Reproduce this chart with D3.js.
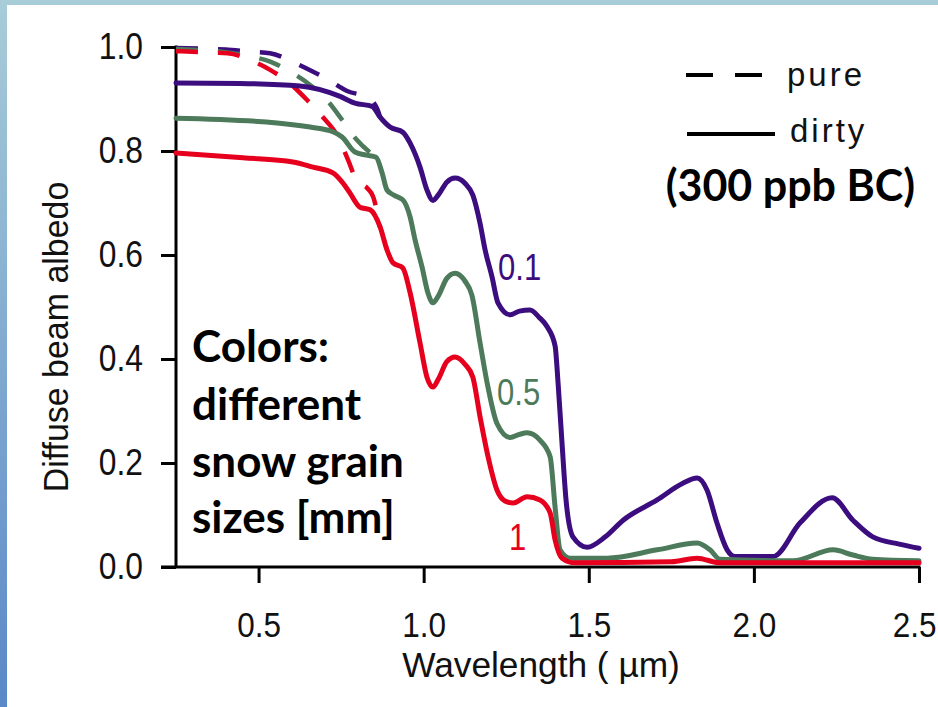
<!DOCTYPE html>
<html>
<head>
<meta charset="utf-8">
<script src="https://cdn.jsdelivr.net/npm/d3@7/dist/d3.min.js"></script>
<style>
  html, body { margin: 0; padding: 0; background: #ffffff; }
  svg { display: block; }
  .axis-text { font-family: "Liberation Sans", Arial, sans-serif; fill: #111; }
  .note { font-family: Lato, "Open Sans", sans-serif; font-weight: 700; fill: #000; }
</style>
</head>
<body>
<svg id="chart" width="938" height="707"></svg>
<script>
// Diffuse beam albedo of snow vs wavelength, three grain sizes,
// pure snow (dashed) and snow with 300 ppb black carbon (solid).

const xTicks = [0.5, 1.0, 1.5, 2.0, 2.5];
const yTicks = [0.0, 0.2, 0.4, 0.6, 0.8, 1.0];
const grainLabels = ["0.1", "0.5", "1"];

// dirty snow, grain radius 0.1 mm  [wavelength µm, albedo]
const dirty01 = [
  [0.25, 0.931], [0.444, 0.930], [0.625, 0.925], [0.747, 0.905], [0.792, 0.892],
  [0.844, 0.886], [0.868, 0.865], [0.898, 0.846], [0.937, 0.836], [0.959, 0.815],
  [0.989, 0.769], [1.010, 0.725], [1.028, 0.705], [1.045, 0.716], [1.070, 0.740],
  [1.095, 0.748], [1.125, 0.738], [1.149, 0.715], [1.171, 0.660], [1.186, 0.610],
  [1.207, 0.558], [1.225, 0.508], [1.262, 0.485], [1.290, 0.492], [1.322, 0.494],
  [1.350, 0.480], [1.374, 0.462], [1.398, 0.425], [1.407, 0.354], [1.419, 0.238],
  [1.431, 0.130], [1.452, 0.058], [1.495, 0.038], [1.550, 0.058], [1.604, 0.090],
  [1.707, 0.129], [1.785, 0.161], [1.828, 0.171], [1.858, 0.148], [1.888, 0.085],
  [1.919, 0.033], [1.943, 0.020], [2.058, 0.020], [2.140, 0.085], [2.237, 0.133],
  [2.300, 0.090], [2.360, 0.058], [2.440, 0.044], [2.500, 0.036]
];

// dirty snow, grain radius 0.5 mm
const dirty05 = [
  [0.25, 0.863], [0.556, 0.854], [0.656, 0.846], [0.725, 0.837], [0.753, 0.827],
  [0.792, 0.798], [0.826, 0.792], [0.856, 0.788], [0.874, 0.758], [0.889, 0.725],
  [0.910, 0.715], [0.937, 0.706], [0.959, 0.673], [0.974, 0.629], [0.995, 0.577],
  [1.013, 0.527], [1.028, 0.508], [1.045, 0.522], [1.070, 0.555], [1.095, 0.565],
  [1.125, 0.550], [1.146, 0.523], [1.171, 0.430], [1.195, 0.345], [1.222, 0.276],
  [1.262, 0.249], [1.290, 0.255], [1.313, 0.258], [1.352, 0.244], [1.383, 0.212],
  [1.398, 0.115], [1.413, 0.033], [1.443, 0.017], [1.555, 0.017], [1.707, 0.033],
  [1.828, 0.046], [1.867, 0.033], [1.897, 0.015], [2.119, 0.012], [2.240, 0.033],
  [2.300, 0.023], [2.360, 0.015], [2.500, 0.012]
];

// dirty snow, grain radius 1 mm
const dirty1 = [
  [0.25, 0.796], [0.453, 0.787], [0.604, 0.779], [0.665, 0.769], [0.725, 0.758],
  [0.756, 0.738], [0.777, 0.719], [0.807, 0.692], [0.838, 0.687], [0.868, 0.654],
  [0.889, 0.610], [0.907, 0.585], [0.937, 0.575], [0.959, 0.527], [0.989, 0.431],
  [1.010, 0.365], [1.028, 0.346], [1.045, 0.362], [1.070, 0.395], [1.095, 0.404],
  [1.125, 0.390], [1.149, 0.365], [1.171, 0.288], [1.195, 0.212], [1.222, 0.148],
  [1.246, 0.127], [1.271, 0.123], [1.313, 0.135], [1.352, 0.129], [1.383, 0.104],
  [1.398, 0.052], [1.419, 0.017], [1.458, 0.008], [1.750, 0.010], [1.828, 0.017],
  [1.897, 0.008], [2.500, 0.008]
];

// pure snow, until the curves join the dirty ones
const pure01 = [
  [0.25, 0.998], [0.400, 0.995], [0.474, 0.991], [0.535, 0.988], [0.605, 0.971],
  [0.641, 0.960], [0.711, 0.937], [0.770, 0.915], [0.830, 0.903], [0.860, 0.880],
  [0.868, 0.865]
];
const pure05 = [
  [0.25, 0.996], [0.400, 0.990], [0.474, 0.982], [0.535, 0.972], [0.589, 0.955],
  [0.656, 0.927], [0.707, 0.898], [0.753, 0.860], [0.798, 0.821], [0.856, 0.788]
];
const pure1 = [
  [0.25, 0.992], [0.329, 0.990], [0.407, 0.988], [0.474, 0.975], [0.535, 0.956],
  [0.589, 0.933], [0.647, 0.898], [0.695, 0.865], [0.738, 0.830], [0.771, 0.783],
  [0.798, 0.742], [0.830, 0.728], [0.847, 0.712], [0.868, 0.654]
];

const colors = ["#3b0d7e", "#4c7a5a", "#e6001e"];

const svg = d3.select("#chart");
const W = 938, H = 707;

// slide frame: blue-grey strip along the top and left
const defs = svg.append("defs");
const grad = defs.append("linearGradient").attr("id", "frameGrad")
  .attr("x1", 0).attr("y1", 0).attr("x2", 0).attr("y2", 1);
grad.append("stop").attr("offset", "0%").attr("stop-color", "#a8ccd8");
grad.append("stop").attr("offset", "100%").attr("stop-color", "#5a88c8");
svg.append("rect").attr("x", 0).attr("y", 0).attr("width", W).attr("height", H).attr("fill", "#fff");
svg.append("rect").attr("x", 0).attr("y", 0).attr("width", W).attr("height", 5).attr("fill", "#a8ccd8");
svg.append("rect").attr("x", 0).attr("y", 0).attr("width", 7).attr("height", H).attr("fill", "url(#frameGrad)");

const x = d3.scaleLinear().domain([0.25, 2.5]).range([176, 919]);
const y = d3.scaleLinear().domain([0, 1]).range([567, 47]);

// squeeze a text horizontally about its own anchor point
function condense(sel, sx) {
  sel.each(function () {
    const t = d3.select(this);
    const tx = +t.attr("x") || 0, ty = +t.attr("y") || 0;
    t.attr("x", 0).attr("y", 0)
      .attr("transform", `translate(${tx},${ty}) scale(${sx},1)`);
  });
}

// axes
const xAxis = d3.axisBottom(x).tickValues(xTicks).tickFormat(d3.format(".1f"))
  .tickSize(16).tickPadding(29).tickSizeOuter(0);
const yAxis = d3.axisLeft(y).tickValues(yTicks).tickFormat(d3.format(".1f"))
  .tickSize(15).tickPadding(18).tickSizeOuter(0);

const gx = svg.append("g").attr("transform", `translate(0,${y(0)})`).call(xAxis);
const gy = svg.append("g").attr("transform", `translate(${x(0.25)},0)`).call(yAxis);
[gx, gy].forEach(g => {
  g.select(".domain").remove();
  g.selectAll(".tick line").attr("stroke", "#000").attr("stroke-width", 3);
  g.selectAll(".tick text").attr("class", "axis-text").attr("fill", "#111");
});
gy.selectAll(".tick text").attr("font-size", 37);
gx.selectAll(".tick text").attr("font-size", 35);
condense(gy.selectAll(".tick text"), 0.86);
condense(gx.selectAll(".tick text"), 0.9);
// keep the last x label inside the page (tick group is already at x = 919)
gx.selectAll(".tick text").filter(d => d === 2.5)
  .attr("text-anchor", "end")
  .attr("transform", "translate(17,45) scale(0.9,1)");

// axis lines (the horizontal one runs out to the end of the y ticks)
svg.append("line").attr("x1", x(0.25) - 15).attr("x2", x(2.5) + 1.5)
  .attr("y1", y(0)).attr("y2", y(0)).attr("stroke", "#000").attr("stroke-width", 3);
svg.append("line").attr("x1", x(0.25)).attr("x2", x(0.25))
  .attr("y1", y(1) - 1.5).attr("y2", y(0)).attr("stroke", "#000").attr("stroke-width", 3);

svg.append("text").attr("class", "axis-text").attr("font-size", 36)
  .attr("transform", "translate(541,677) scale(0.98,1)").attr("text-anchor", "middle")
  .text("Wavelength ( \u00b5m)");
svg.append("text").attr("class", "axis-text").attr("font-size", 35)
  .attr("transform", "translate(68,337) rotate(-90) scale(0.97,1)").attr("text-anchor", "middle")
  .text("Diffuse beam albedo");

// curves
const line = d3.line().x(d => x(d[0])).y(d => y(d[1])).curve(d3.curveMonotoneX);
const plot = svg.append("g");
[pure01, pure05, pure1].forEach((s, i) => {
  plot.append("path").attr("d", line(s)).attr("fill", "none")
    .attr("stroke", colors[i]).attr("stroke-width", 4.5)
    .attr("stroke-dasharray", "22,20").attr("stroke-linejoin", "round");
});
[dirty01, dirty05, dirty1].forEach((s, i) => {
  plot.append("path").attr("d", line(s)).attr("fill", "none")
    .attr("stroke", colors[i]).attr("stroke-width", 5)
    .attr("stroke-linejoin", "round").attr("stroke-linecap", "round");
});

// grain size labels beside the curves
const labelPos = [[498, 280], [497, 405], [509, 550]];
grainLabels.forEach((t, i) => {
  svg.append("text").attr("class", "axis-text").attr("font-size", 37)
    .attr("transform", `translate(${labelPos[i][0]},${labelPos[i][1]}) scale(0.84,1)`)
    .style("fill", colors[i]).text(t);
});

// legend
const leg = svg.append("g");
leg.append("line").attr("x1", 686).attr("x2", 763).attr("y1", 75).attr("y2", 75)
  .attr("stroke", "#000").attr("stroke-width", 4).attr("stroke-dasharray", "27,22");
leg.append("text").attr("class", "axis-text").attr("font-size", 33)
  .attr("letter-spacing", 3).attr("x", 787).attr("y", 86).text("pure");
leg.append("line").attr("x1", 687).attr("x2", 775).attr("y1", 134).attr("y2", 134)
  .attr("stroke", "#000").attr("stroke-width", 4);
leg.append("text").attr("class", "axis-text").attr("font-size", 33)
  .attr("letter-spacing", 3).attr("x", 790).attr("y", 142).text("dirty");
svg.append("text").attr("class", "note").attr("font-size", 43)
  .attr("x", 915).attr("y", 201).attr("text-anchor", "end").text("(300 ppb BC)");

// note on colour meaning
const noteLines = ["Colors:", "different", "snow grain", "sizes [mm]"];
const noteY = [362, 420, 477, 533];
noteLines.forEach((t, i) => {
  svg.append("text").attr("class", "note").attr("font-size", 44)
    .attr("x", 192).attr("y", noteY[i]).text(t);
});
</script>
</body>
</html>
